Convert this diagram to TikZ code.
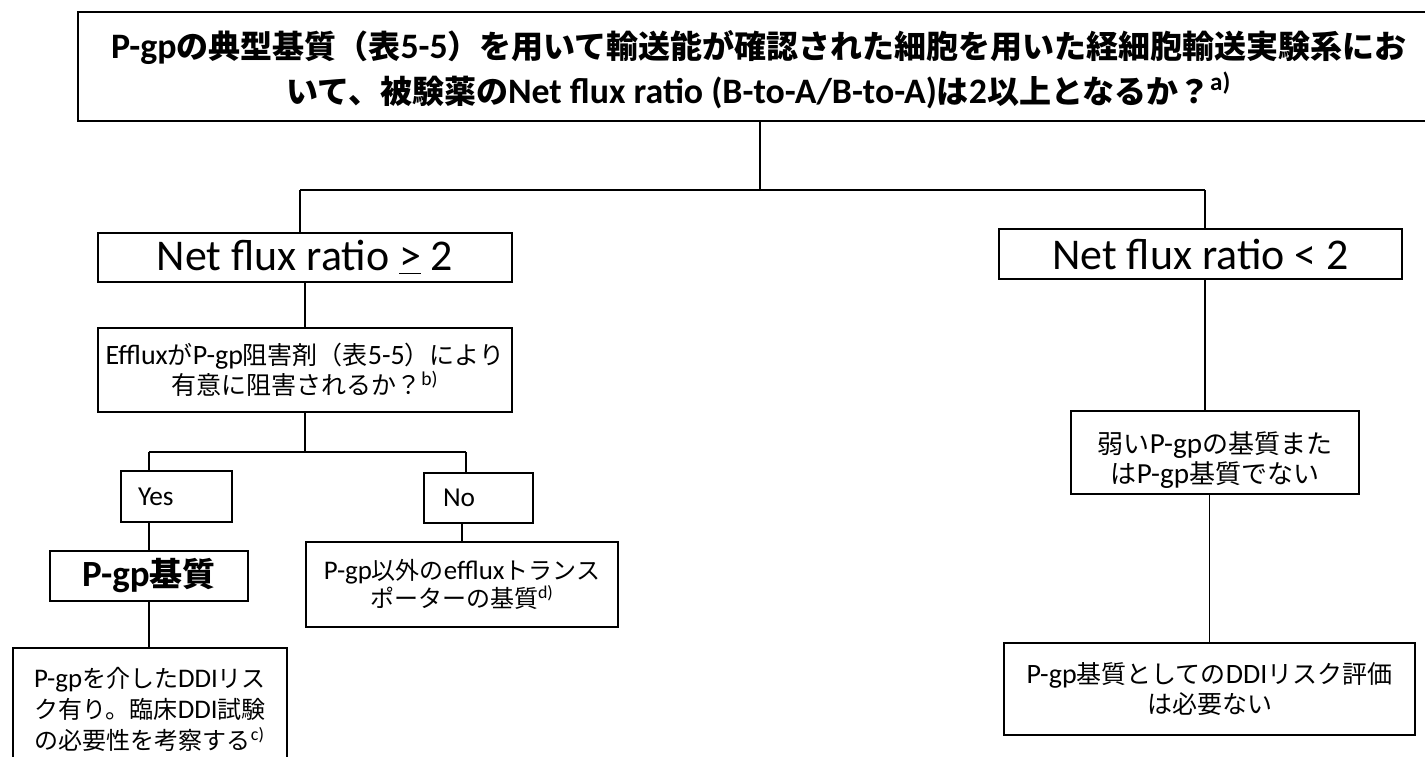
\documentclass[tikz,border=0pt]{standalone}
\usepackage{fontspec}
\setmainfont{Carlito}[Scale=1.12]
\newfontfamily\jpfont{Noto Sans CJK JP}
\newcommand\jtxt[1]{{\jpfont #1}}
\tikzset{
  box/.style={draw, line width=1pt, inner sep=0pt, align=center},
  conn/.style={line width=0.75pt},
}
\begin{document}
\begin{tikzpicture}[x=0.5pt,y=-0.5pt]
\fill[white] (0,0) rectangle (1425,756);
\useasboundingbox (0,0) rectangle (1425,756);

% top question
\node[box, minimum width=681pt, minimum height=54.5pt,
      font=\fontsize{16}{22.5}\selectfont\bfseries] (top) at (759,66.5)
  {\rule{0pt}{17pt}P-gp\jtxt{の典型基質（表}5-5\jtxt{）を用いて輸送能が確認された細胞を用いた経細胞輸送実験系にお}\\
   \jtxt{いて、被験薬の}Net flux ratio (B-to-A/B-to-A)\jtxt{は}2\jtxt{以上となるか？}\textsuperscript{a)}};

% level 1
\node[box, minimum width=207pt, minimum height=24.5pt,
      font=\fontsize{19.6}{24}\selectfont] (nfa) at (305,257.5)
  {Net flux ratio \underline{>} 2};
\node[box, minimum width=201.5pt, minimum height=25pt,
      font=\fontsize{19.6}{24}\selectfont] (nfb) at (1200.5,254)
  {Net flux ratio < 2};

% left branch
\node[box, minimum width=207pt, minimum height=42pt,
      font=\fontsize{12.5}{15}\selectfont] (efl) at (305,370)
  {Efflux\jtxt{が}P-gp\jtxt{阻害剤（表}5-5\jtxt{）により}\\
   \jtxt{有意に阻害されるか？}\textsuperscript{b)}};

\node[box, minimum height=25.5pt, text width=38.5pt, inner xsep=8.5pt, align=left,
      font=\fontsize{12.2}{15}\selectfont] (yes) at (176.5,496.5) {Yes};
\node[box, minimum height=25pt, text width=35.5pt, inner xsep=9.5pt, align=left,
      font=\fontsize{12.2}{15}\selectfont] (no) at (478.5,498) {No};

\node[box, minimum width=99pt, minimum height=25pt,
      font=\fontsize{16.5}{20}\selectfont\bfseries] (pgp) at (149,576)
  {P-gp\jtxt{基質}};

\node[box, minimum width=137pt, minimum height=61pt,
      font=\fontsize{12}{15.5}\selectfont] (ddi) at (150,709)
  {P-gp\jtxt{を介した}DDI\jtxt{リス}\\
   \jtxt{ク有り。臨床}DDI\jtxt{試験}\\
   \jtxt{の必要性を考察する}\textsuperscript{c)}};

\node[box, minimum width=156pt, minimum height=42.5pt,
      font=\fontsize{12}{14}\selectfont] (oth) at (462,584.5)
  {P-gp\jtxt{以外の}efflux\jtxt{トランス}\\
   \jtxt{ポーターの基質}\textsuperscript{d)}};

% right branch
\node[box, minimum width=144pt, minimum height=41.5pt,
      font=\fontsize{13}{15}\selectfont] (weak) at (1215,452.5)
  {\rule{0pt}{18pt}\jtxt{弱い}P-gp\jtxt{の基質また}\\
   \jtxt{は}P-gp\jtxt{基質でない}};

\node[box, minimum width=205.5pt, minimum height=46pt,
      font=\fontsize{12.5}{15}\selectfont] (nor) at (1209.5,689)
  {P-gp\jtxt{基質としての}DDI\jtxt{リスク評価}\\
   \jtxt{は必要ない}};

% junctions
\coordinate (j0) at (760,190);
\coordinate (jl) at (300,190);
\coordinate (jr) at (1205,190);
\coordinate (j1) at (305,452);
\coordinate (jy) at (149,452);
\coordinate (jn) at (466,452);

% connectors
\draw[conn] (top.south -| j0) -- (j0);
\draw[conn] (jl) -- (jr);
\draw[conn] (jl) -- (jl |- nfa.north);
\draw[conn] (jr) -- (jr |- nfb.north);
\draw[conn] (nfa.south) -- (efl.north);
\draw[conn] (efl.south) -- (j1);
\draw[conn] (jy) -- (jn);
\draw[conn] (jy) -- (jy |- yes.north);
\draw[conn] (jn) -- (jn |- no.north);
\draw[conn] (pgp.north) -- (pgp.north |- yes.south);
\draw[conn] (pgp.south) -- (pgp.south |- ddi.north);
\draw[conn] (oth.north) -- (oth.north |- no.south);
\draw[conn] (jr |- nfb.south) -- (jr |- weak.north);
\draw[conn] (nor.north |- weak.south) -- (nor.north);
\end{tikzpicture}
\end{document}
